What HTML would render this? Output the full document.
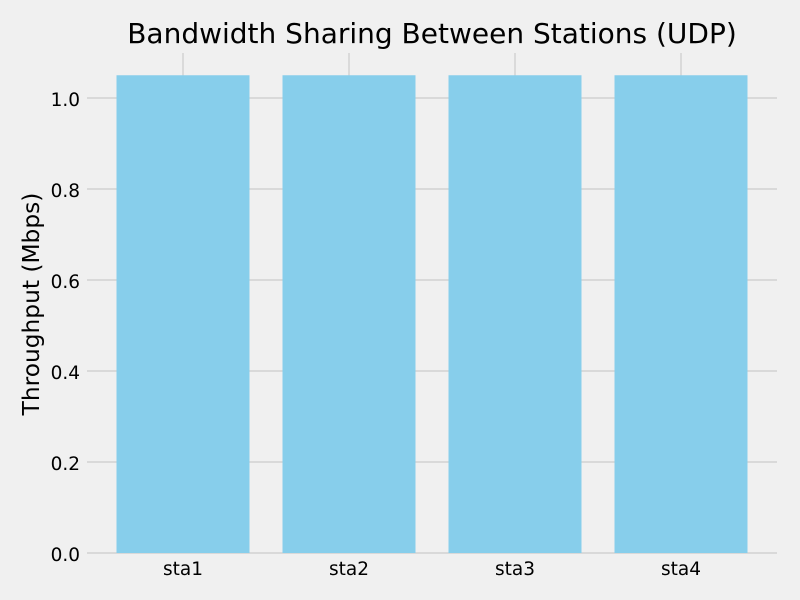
<!DOCTYPE html>
<html><head><meta charset="utf-8"><style>
body{margin:0;background:#f0f0f0;}
svg{display:block;font-family:"DejaVu Sans","Liberation Sans",sans-serif;}
</style></head><body>
<svg id="chart" width="800" height="600">
<rect width="800" height="600" fill="#f0f0f0"/>
<text x="432" y="43" font-size="28" text-anchor="middle" fill="#000">Bandwidth Sharing Between Stations (UDP)</text>
<text transform="translate(39,304) rotate(-90)" font-size="23.3" text-anchor="middle" fill="#000">Throughput (Mbps)</text>
<g id="grid"></g><g id="bars"></g><g id="ticks"></g>
</svg>
<script>
const categories = ["sta1","sta2","sta3","sta4"];
const values = [1.05,1.05,1.05,1.05];
const yTicks = [0,0.2,0.4,0.6,0.8,1.0];
const yTickLabels = ["0.0","0.2","0.4","0.6","0.8","1.0"];
const L=87,R=777,T=53,B=553;
const y0=553,pxPerUnit=455;
function y(v){return y0-v*pxPerUnit;}
function x(i){return 183+i*166;}
const NS="http://www.w3.org/2000/svg";
function mk(t,a,p){const e=document.createElementNS(NS,t);for(const k in a)e.setAttribute(k,a[k]);document.getElementById(p).appendChild(e);return e;}
yTicks.forEach((v,i)=>{
  const g=mk('line',{x1:L,x2:R,y1:y(v),y2:y(v),stroke:'#cbcbcb','stroke-width':1.2},'grid');
  
  
  const t=mk('text',{x:80,y:y(v)+8,'font-size':18.5,'text-anchor':'end',fill:'#000'},'ticks');
  t.textContent=yTickLabels[i];
  
  
});
categories.forEach((c,i)=>{
  const g=mk('line',{x1:x(i),x2:x(i),y1:T,y2:B,stroke:'#cbcbcb','stroke-width':1.2},'grid');
  
  
  const r=mk('rect',{x:x(i)-66.5,width:133,y:y(values[i]),height:y(0)-y(values[i]),fill:'#87ceeb'},'bars');
  
  
  const t=mk('text',{x:x(i),y:575,'font-size':18.5,'text-anchor':'middle',fill:'#000'},'ticks');
  t.textContent=c;
  
  
});
</script>
</body></html>
